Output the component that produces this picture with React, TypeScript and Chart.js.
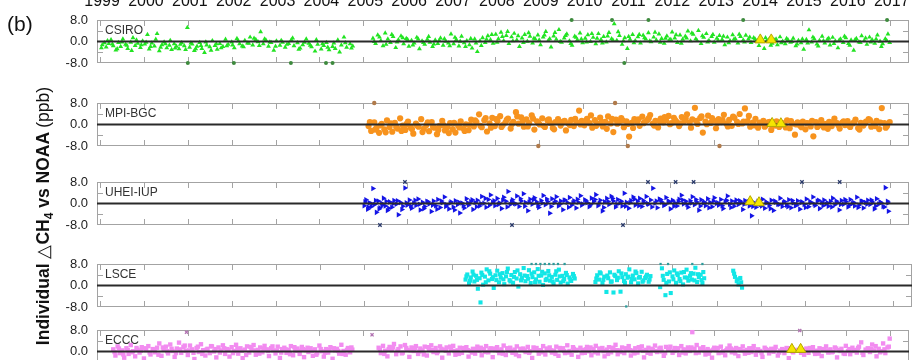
import React, { useEffect, useRef } from "react";
import Chart from "chart.js/auto";

type P = [number, number];

const YEARS = [1999, 2000, 2001, 2002, 2003, 2004, 2005, 2006, 2007, 2008, 2009, 2010, 2011, 2012, 2013, 2014, 2015, 2016, 2017];
const X_MIN = 1998.93;
const X_MAX = 2017.44;
const Y_TICKS = [-8, 0, 8];

const csiro: P[] = [
  [1999.05,-1.2],[1999.1,-0.5],[1999.14,-2.1],[1999.2,-0.8],[1999.25,0.6],[1999.3,-1.6],[1999.36,-3.2],[1999.42,-0.4],[1999.47,-1.9],[1999.52,0.9],[1999.58,-1.1],[1999.63,-2.6],[1999.7,-0.3],[1999.75,1.4],[1999.8,-1.5],[1999.86,-0.7],[1999.92,-2.3],[1999.97,0.2],
  [2000.02,-1.0],[2000.08,2.6],[2000.12,-2.8],[2000.18,-0.6],[2000.24,-1.7],[2000.3,2.9],[2000.35,-3.5],[2000.41,-1.2],[2000.46,-0.2],[2000.52,-2.4],[2000.58,-1.4],[2000.63,-3.0],[2000.69,-0.9],[2000.74,-1.8],[2000.8,-2.7],[2000.86,-0.5],[2000.92,-1.6],[2000.99,5.2],
  [2001.04,-2.2],[2001.1,-1.0],[2001.15,-3.4],[2001.21,-1.8],[2001.27,-0.4],[2001.32,-2.6],[2001.38,-4.1],[2001.43,-1.3],[2001.5,-2.0],[2001.56,0.3],[2001.62,-1.5],[2001.67,-2.9],[2001.73,-0.8],[2001.8,-1.9],[2001.86,0.8],[2001.92,-1.1],
  [2002.0,-0.2],[2002.06,-2.4],[2002.12,1.1],[2002.18,-0.9],[2002.24,-1.7],[2002.3,0.4],[2002.36,-0.6],[2002.42,1.6],[2002.48,-1.3],[2002.55,0.7],[2002.6,-0.1],[2002.66,3.6],[2002.72,-0.9],[2002.78,0.5],[2002.84,-1.8],[2002.9,-0.4],[2002.96,-3.3],
  [2003.02,0.2],[2003.1,-1.4],[2003.16,-0.3],[2003.22,-2.2],[2003.3,-0.8],[2003.36,0.6],[2003.42,-1.6],[2003.5,-0.5],[2003.56,-2.5],[2003.62,-1.2],[2003.7,0.9],[2003.76,-0.7],[2003.82,-2.0],[2003.9,-3.6],[2003.96,-1.1],
  [2004.04,-2.8],[2004.1,-1.5],[2004.16,-0.4],[2004.22,-3.1],[2004.3,-1.9],[2004.36,-2.6],[2004.42,0.5],[2004.5,-1.3],[2004.56,1.6],[2004.62,-2.2],[2004.7,-0.9],[2004.76,-1.7],
  [2005.22,1.2],[2005.28,-0.8],[2005.33,2.4],[2005.4,0.3],[2005.45,-1.6],[2005.5,3.1],[2005.56,0.9],[2005.62,-0.4],[2005.68,1.8],[2005.74,-2.3],[2005.8,0.6],[2005.86,2.0],[2005.92,-0.9],[2005.98,1.1],
  [2006.04,-1.8],[2006.1,0.4],[2006.16,-0.6],[2006.22,1.5],[2006.28,-2.7],[2006.34,0.2],[2006.4,-1.1],[2006.46,0.8],[2006.52,-0.3],[2006.58,-1.9],[2006.64,0.5],[2006.7,-0.8],[2006.76,1.3],[2006.82,-1.4],[2006.88,0.1],[2006.94,-0.6],
  [2007.0,2.8],[2007.06,-0.9],[2007.12,0.7],[2007.18,-1.7],[2007.24,1.9],[2007.3,-0.5],[2007.36,0.3],[2007.42,-1.2],[2007.48,-2.5],[2007.54,0.9],[2007.6,-3.8],[2007.66,0.2],[2007.72,1.4],[2007.78,-0.4],[2007.84,2.1],[2007.9,0.6],[2007.96,-0.7],
  [2008.02,2.7],[2008.08,1.0],[2008.14,3.4],[2008.2,0.3],[2008.26,2.2],[2008.32,-0.8],[2008.38,1.7],[2008.44,3.0],[2008.5,0.5],[2008.56,-1.9],[2008.62,1.3],[2008.68,2.6],[2008.74,0.1],[2008.8,1.9],[2008.86,-0.6],[2008.92,0.9],[2008.98,2.4],
  [2009.04,-1.2],[2009.1,1.6],[2009.16,3.7],[2009.22,0.4],[2009.28,-2.1],[2009.34,2.0],[2009.4,0.8],[2009.46,4.4],[2009.52,-0.3],[2009.58,1.3],[2009.64,2.8],[2009.7,0.2],[2009.76,-1.4],[2009.82,1.9],[2009.88,0.6],[2009.94,3.1],
  [2010.0,-0.5],[2010.06,1.2],[2010.12,2.5],[2010.18,0.0],[2010.24,1.5],[2010.3,-0.9],[2010.36,2.9],[2010.42,0.7],[2010.48,1.8],[2010.54,-0.2],[2010.6,3.3],[2010.66,1.0],[2010.72,6.6],[2010.78,0.4],[2010.84,2.2],[2010.9,-1.1],[2010.96,1.4],
  [2011.02,-2.6],[2011.08,0.8],[2011.14,2.6],[2011.2,0.3],[2011.26,1.7],[2011.32,-0.6],[2011.38,2.3],[2011.44,0.9],[2011.5,3.2],[2011.56,-0.1],[2011.62,1.6],[2011.68,0.5],[2011.74,2.8],[2011.8,1.1],[2011.86,-0.7],[2011.92,2.0],[2011.98,0.6],
  [2012.04,3.5],[2012.1,1.3],[2012.16,-0.4],[2012.22,2.4],[2012.28,0.8],[2012.34,1.9],[2012.4,3.9],[2012.46,0.2],[2012.52,2.7],[2012.58,1.0],[2012.64,4.1],[2012.7,-0.8],[2012.76,1.5],[2012.82,2.9],[2012.88,0.4],[2012.94,1.8],
  [2013.0,-0.3],[2013.06,1.2],[2013.12,2.2],[2013.18,0.7],[2013.24,-1.2],[2013.3,1.6],[2013.36,0.3],[2013.42,2.5],[2013.48,1.0],[2013.54,-0.6],[2013.6,1.8],[2013.66,0.5],[2013.72,2.3],[2013.78,0.9],[2013.84,-0.4],[2013.9,1.4],[2013.96,0.2],
  [2014.02,-1.5],[2014.08,0.8],[2014.14,-2.6],[2014.2,0.3],[2014.26,1.1],[2014.32,-0.7],[2014.38,0.5],[2014.44,-1.2],[2014.5,1.7],[2014.56,0.1],[2014.62,-0.9],[2014.68,0.6],[2014.74,-0.3],[2014.8,1.2],[2014.86,-1.6],[2014.92,0.4],[2014.98,-0.5],
  [2015.04,-2.9],[2015.1,0.7],[2015.16,4.3],[2015.22,-0.2],[2015.28,1.0],[2015.34,-1.0],[2015.4,0.4],[2015.46,1.9],[2015.52,-0.6],[2015.58,0.8],[2015.64,-1.3],[2015.7,1.5],[2015.76,0.2],[2015.82,-2.4],[2015.88,0.9],[2015.94,-0.4],
  [2016.0,1.4],[2016.06,-0.8],[2016.12,0.5],[2016.18,-3.3],[2016.24,1.1],[2016.3,-0.2],[2016.36,2.1],[2016.42,0.3],[2016.48,-1.1],[2016.54,1.6],[2016.6,0.6],[2016.66,-0.7],[2016.72,2.4],[2016.78,0.1],[2016.84,-0.9],[2016.9,1.0],[2016.96,2.8],[2017.0,-0.4]
];
const csiroB: P[] = [
  [1999.03,-2.4],[1999.17,0.3],[1999.28,-1.0],[1999.39,-2.7],[1999.5,-0.2],[1999.61,-1.4],[1999.72,-3.4],[1999.83,0.5],[1999.94,-1.2],
  [2000.05,-0.3],[2000.15,-1.9],[2000.27,0.8],[2000.38,-2.2],[2000.49,-0.9],[2000.6,0.4],[2000.71,-2.5],[2000.83,-1.1],[2000.95,-3.0],
  [2001.07,-0.6],[2001.18,-2.7],[2001.3,-1.5],[2001.41,-0.2],[2001.53,-3.3],[2001.65,-0.9],[2001.76,-2.4],[2001.89,-1.6],
  [2002.02,-1.3],[2002.15,0.2],[2002.27,-2.0],[2002.39,-0.7],[2002.51,1.2],[2002.63,-1.5],[2002.75,0.9],[2002.87,-0.2],
  [2003.0,-1.8],[2003.13,0.4],[2003.26,-1.1],[2003.39,1.3],[2003.53,-2.9],[2003.66,-0.3],[2003.79,-1.4],[2003.93,0.6],
  [2004.07,-0.9],[2004.19,-2.2],[2004.33,-0.6],[2004.46,-3.9],[2004.59,-0.5],[2004.73,-2.5],
  [2005.25,0.0],[2005.37,1.6],[2005.52,-1.1],[2005.65,2.6],[2005.77,-0.2],[2005.9,1.4],
  [2006.01,0.7],[2006.13,-1.3],[2006.25,0.9],[2006.37,-0.4],[2006.49,1.8],[2006.61,-1.0],[2006.73,0.4],[2006.85,1.0],[2006.97,-1.6],
  [2007.09,1.5],[2007.21,0.1],[2007.33,-1.9],[2007.45,1.1],[2007.57,-0.6],[2007.69,-1.5],[2007.81,0.8],[2007.93,2.6],
  [2008.05,-0.3],[2008.17,1.8],[2008.29,3.7],[2008.41,0.2],[2008.53,2.1],[2008.65,-0.4],[2008.77,3.2],[2008.89,1.2],
  [2009.01,0.5],[2009.13,2.4],[2009.25,1.0],[2009.37,3.3],[2009.49,0.0],[2009.61,2.2],[2009.73,-0.8],[2009.85,1.5],[2009.97,0.9],
  [2010.09,-0.2],[2010.21,2.9],[2010.33,1.2],[2010.45,-0.6],[2010.57,2.0],[2010.69,0.5],[2010.81,3.6],[2010.93,0.2],
  [2011.05,1.8],[2011.17,-0.5],[2011.29,2.6],[2011.41,1.4],[2011.53,0.2],[2011.65,3.4],[2011.77,-0.3],[2011.89,1.2],
  [2012.01,0.7],[2012.13,2.5],[2012.25,-0.7],[2012.37,1.3],[2012.49,3.1],[2012.61,0.3],[2012.73,2.1],[2012.85,-0.2],[2012.97,2.6],
  [2013.09,0.4],[2013.21,1.9],[2013.33,-0.5],[2013.45,0.8],[2013.57,2.7],[2013.69,-0.2],[2013.81,1.6],[2013.93,0.9],
  [2014.05,0.3],[2014.17,1.4],[2014.29,-1.4],[2014.41,0.9],[2014.53,-0.5],[2014.65,1.1],[2014.77,0.0],[2014.89,-1.0],
  [2015.01,0.9],[2015.13,-0.6],[2015.25,1.6],[2015.37,-1.7],[2015.49,0.3],[2015.61,1.2],[2015.73,-0.8],[2015.85,0.5],[2015.97,1.9],
  [2016.09,-1.4],[2016.21,0.6],[2016.33,-0.4],[2016.45,1.3],[2016.57,-0.2],[2016.69,0.9],[2016.81,-1.9],[2016.93,0.4]
];
const csiroOut: P[] = [[2001.0,-8],[2002.05,-8],[2003.35,-8],[2004.15,-8],[2004.3,-8],[2009.75,8],[2010.67,8],[2010.95,-8],[2011.5,8],[2013.66,8],[2016.94,8]];
const csiroMarks: P[] = [[2014.05,0.6],[2014.3,0.6]];

const mpi: P[] = [
  [2005.12,-0.6],[2005.18,-2.4],[2005.25,0.8],[2005.3,-1.3],[2005.36,-3.1],[2005.42,0.2],[2005.48,-1.8],[2005.54,1.5],[2005.6,-0.9],[2005.66,-2.7],[2005.72,0.6],[2005.78,-1.5],[2005.84,2.3],[2005.9,-0.4],[2005.96,-2.0],
  [2006.02,1.1],[2006.08,-1.1],[2006.14,-3.4],[2006.2,0.3],[2006.26,-0.8],[2006.32,2.0],[2006.38,-1.6],[2006.44,-0.2],[2006.5,-2.5],[2006.56,0.9],[2006.62,-1.2],[2006.68,-3.6],[2006.74,-0.5],[2006.8,1.4],[2006.86,-2.2],[2006.92,-0.9],[2006.98,0.5],
  [2007.04,-1.7],[2007.1,-3.0],[2007.16,-0.3],[2007.22,1.2],[2007.28,-1.4],[2007.34,0.1],[2007.4,-2.1],[2007.46,1.8],[2007.52,-0.7],[2007.58,0.9],[2007.64,3.8],[2007.7,-1.0],[2007.76,1.6],[2007.82,-2.6],[2007.88,0.4],[2007.94,2.5],
  [2008.0,-0.6],[2008.06,1.3],[2008.12,3.1],[2008.18,-0.2],[2008.24,0.7],[2008.3,2.2],[2008.36,-1.5],[2008.42,1.0],[2008.48,4.6],[2008.54,0.3],[2008.6,2.7],[2008.66,-0.8],[2008.72,1.9],[2008.78,0.5],[2008.84,3.4],[2008.9,-1.9],[2008.96,1.2],
  [2009.02,0.0],[2009.08,2.3],[2009.14,-0.9],[2009.2,1.5],[2009.26,0.6],[2009.32,-1.3],[2009.38,0.9],[2009.44,2.0],[2009.5,-0.4],[2009.56,1.1],[2009.62,-2.2],[2009.68,0.4],[2009.74,1.7],[2009.8,-0.6],[2009.86,0.8],[2009.92,5.2],[2009.98,1.4],
  [2010.04,-0.3],[2010.1,2.1],[2010.16,0.5],[2010.22,-1.2],[2010.28,1.6],[2010.34,0.2],[2010.4,2.6],[2010.46,-0.7],[2010.52,1.0],[2010.58,3.0],[2010.64,0.4],[2010.7,-2.8],[2010.76,1.8],[2010.82,0.7],[2010.88,2.4],[2010.94,-1.0],
  [2011.0,1.2],[2011.06,-4.5],[2011.12,0.6],[2011.18,2.0],[2011.24,1.1],[2011.3,-0.5],[2011.36,2.9],[2011.42,0.9],[2011.48,1.7],[2011.54,3.5],[2011.6,0.3],[2011.66,1.4],[2011.72,-1.1],[2011.78,2.2],[2011.84,0.8],[2011.9,1.6],[2011.96,3.2],
  [2012.02,0.5],[2012.08,2.5],[2012.14,1.0],[2012.2,-0.6],[2012.26,2.8],[2012.32,1.3],[2012.38,3.8],[2012.44,0.7],[2012.5,1.9],[2012.56,6.2],[2012.62,0.2],[2012.68,2.4],[2012.74,-3.0],[2012.8,1.1],[2012.86,3.3],[2012.92,0.6],[2012.98,1.5],
  [2013.04,-1.4],[2013.1,2.0],[2013.16,0.9],[2013.22,3.6],[2013.28,0.3],[2013.34,1.7],[2013.4,-0.5],[2013.46,2.5],[2013.52,1.0],[2013.58,3.9],[2013.64,0.4],[2013.7,6.0],[2013.76,1.3],[2013.82,-0.8],[2013.88,0.7],[2013.94,2.1],
  [2014.0,-1.2],[2014.06,0.5],[2014.12,1.4],[2014.18,-0.3],[2014.24,0.9],[2014.3,-2.0],[2014.36,0.2],[2014.42,1.2],[2014.48,-0.9],[2014.54,0.6],[2014.6,-0.2],[2014.66,1.5],[2014.72,-1.4],[2014.78,0.3],[2014.84,-3.8],[2014.9,0.8],[2014.96,-0.5],
  [2015.02,1.1],[2015.08,-1.8],[2015.14,0.4],[2015.2,-0.7],[2015.26,-4.4],[2015.32,0.9],[2015.38,-0.4],[2015.44,1.6],[2015.5,-1.1],[2015.56,0.2],[2015.62,1.0],[2015.68,-0.6],[2015.74,2.2],[2015.8,0.5],[2015.86,-1.5],[2015.92,0.7],[2015.98,-0.2],
  [2016.04,1.3],[2016.1,-0.9],[2016.16,0.4],[2016.22,1.8],[2016.28,-1.3],[2016.34,0.6],[2016.4,-0.4],[2016.46,1.1],[2016.52,2.0],[2016.58,-0.8],[2016.64,0.3],[2016.7,1.4],[2016.76,-1.7],[2016.82,6.1],[2016.88,0.5],[2016.94,-0.6],[2017.0,0.9]
];
const mpiB: P[] = [
  [2005.15,0.9],[2005.27,-1.9],[2005.39,-0.3],[2005.51,-2.9],[2005.63,0.4],[2005.75,-0.9],[2005.87,-2.4],[2005.99,0.2],
  [2006.11,-1.7],[2006.23,-0.4],[2006.35,-2.8],[2006.47,0.8],[2006.59,-0.8],[2006.71,-2.0],[2006.83,-0.2],[2006.95,-3.2],
  [2007.07,0.6],[2007.19,-1.1],[2007.31,-2.4],[2007.43,-0.1],[2007.55,1.5],[2007.67,-0.5],[2007.79,2.4],[2007.91,-1.2],
  [2008.03,2.0],[2008.15,-0.9],[2008.27,1.7],[2008.39,0.2],[2008.51,3.0],[2008.63,1.0],[2008.75,-0.7],[2008.87,2.2],[2008.99,0.6],
  [2009.11,-0.5],[2009.23,1.9],[2009.35,-1.8],[2009.47,0.8],[2009.59,1.4],[2009.71,-0.2],[2009.83,2.1],[2009.95,0.0],
  [2010.07,1.2],[2010.19,3.4],[2010.31,-0.5],[2010.43,1.0],[2010.55,-1.6],[2010.67,2.1],[2010.79,0.3],[2010.91,1.5],
  [2011.03,0.2],[2011.15,-1.3],[2011.27,1.9],[2011.39,0.5],[2011.51,2.4],[2011.63,-0.4],[2011.75,1.3],[2011.87,2.8],[2011.99,0.1],
  [2012.11,1.6],[2012.23,0.4],[2012.35,2.2],[2012.47,-1.2],[2012.59,1.4],[2012.71,3.0],[2012.83,0.1],[2012.95,2.4],
  [2013.07,0.6],[2013.19,1.6],[2013.31,-0.7],[2013.43,2.9],[2013.55,0.2],[2013.67,1.1],[2013.79,3.2],[2013.91,-0.3],
  [2014.03,0.7],[2014.15,-0.8],[2014.27,1.0],[2014.39,-0.4],[2014.51,0.4],[2014.63,-1.1],[2014.75,1.3],[2014.87,0.0],[2014.99,-1.0],
  [2015.11,0.5],[2015.23,1.4],[2015.35,-0.9],[2015.47,0.3],[2015.59,-1.6],[2015.71,0.9],[2015.83,-0.3],[2015.95,1.2],
  [2016.07,-0.4],[2016.19,0.8],[2016.31,-1.9],[2016.43,0.5],[2016.55,1.6],[2016.67,-0.6],[2016.79,0.7],[2016.91,-1.2]
];
const mpiOut: P[] = [[2005.25,8],[2010.74,8],[2008.99,-8],[2011.03,-8],[2013.12,-8]];
const mpiMarks: P[] = [[2014.32,0.4],[2014.52,0.3]];

const uhei: P[] = [
  [2005.02,-0.8],[2005.06,1.4],[2005.1,-2.1],[2005.14,0.3],[2005.18,-1.2],[2005.22,5.6],[2005.26,-0.4],[2005.3,-3.3],[2005.34,0.9],[2005.38,-1.6],[2005.42,0.1],[2005.46,2.0],[2005.5,-0.9],[2005.55,-2.6],[2005.6,0.6],[2005.65,-1.4],[2005.7,1.1],[2005.75,-0.3],[2005.8,-4.2],[2005.85,0.4],[2005.9,-1.0],[2005.95,5.8],
  [2006.0,-0.6],[2006.05,1.3],[2006.1,-1.8],[2006.15,0.2],[2006.2,-0.7],[2006.25,1.7],[2006.3,-2.4],[2006.35,0.5],[2006.4,-1.1],[2006.45,0.8],[2006.5,-0.2],[2006.55,-3.0],[2006.6,0.9],[2006.65,-0.8],[2006.7,1.5],[2006.75,-1.5],[2006.8,0.3],[2006.85,2.4],[2006.9,-0.5],[2006.95,-2.0],
  [2007.0,0.6],[2007.05,-1.3],[2007.1,1.0],[2007.15,-0.4],[2007.2,-3.5],[2007.25,0.2],[2007.3,-1.7],[2007.35,1.8],[2007.4,-0.6],[2007.45,0.7],[2007.5,-2.2],[2007.55,0.4],[2007.6,1.2],[2007.65,-0.9],[2007.7,2.6],[2007.75,0.1],[2007.8,-1.4],[2007.85,1.5],[2007.9,3.2],[2007.95,0.5],
  [2008.0,-0.8],[2008.05,1.9],[2008.1,0.3],[2008.15,-1.9],[2008.2,2.3],[2008.25,0.8],[2008.3,4.5],[2008.35,-0.4],[2008.4,1.4],[2008.45,0.0],[2008.5,2.8],[2008.55,-1.1],[2008.6,0.9],[2008.65,3.6],[2008.7,0.4],[2008.75,-2.7],[2008.8,1.6],[2008.85,-0.3],[2008.9,2.1],[2008.95,0.6],
  [2009.0,-1.5],[2009.05,1.1],[2009.1,3.0],[2009.15,-0.5],[2009.2,0.7],[2009.25,-3.6],[2009.3,1.8],[2009.35,0.2],[2009.4,2.5],[2009.45,-0.9],[2009.5,0.9],[2009.55,-2.3],[2009.6,1.3],[2009.65,0.4],[2009.7,2.2],[2009.75,-0.6],[2009.8,1.0],[2009.85,-1.7],[2009.9,0.5],[2009.95,2.9],
  [2010.0,-0.2],[2010.05,1.4],[2010.1,0.3],[2010.15,-1.2],[2010.2,2.0],[2010.25,0.7],[2010.3,3.3],[2010.35,-0.8],[2010.4,1.2],[2010.45,-2.8],[2010.5,0.6],[2010.55,1.9],[2010.6,-0.4],[2010.65,2.7],[2010.7,0.9],[2010.75,-1.3],[2010.8,1.5],[2010.85,0.2],[2010.9,-0.9],[2010.95,3.8],
  [2011.0,0.5],[2011.05,-1.8],[2011.1,1.1],[2011.15,2.4],[2011.2,-0.6],[2011.25,0.8],[2011.3,1.9],[2011.35,-1.1],[2011.4,0.4],[2011.45,2.6],[2011.5,-0.3],[2011.55,1.3],[2011.6,5.7],[2011.65,0.1],[2011.7,-1.6],[2011.75,1.7],[2011.8,0.6],[2011.85,-0.7],[2011.9,2.2],[2011.95,0.9],
  [2012.0,-2.0],[2012.05,1.2],[2012.1,0.3],[2012.15,-0.9],[2012.2,1.6],[2012.25,3.1],[2012.3,-0.2],[2012.35,0.8],[2012.4,-1.4],[2012.45,1.0],[2012.5,2.5],[2012.55,-0.5],[2012.6,0.6],[2012.65,-2.5],[2012.7,1.4],[2012.75,0.2],[2012.8,-0.8],[2012.85,1.8],[2012.9,0.5],[2012.95,-1.2],
  [2013.0,2.1],[2013.05,0.0],[2013.1,-0.6],[2013.15,1.5],[2013.2,-1.9],[2013.25,0.7],[2013.3,2.8],[2013.35,-0.3],[2013.4,0.9],[2013.45,-1.0],[2013.5,1.3],[2013.55,-0.4],[2013.6,0.6],[2013.65,-2.2],[2013.7,1.1],[2013.75,0.1],[2013.8,-0.9],[2013.85,-4.6],[2013.9,0.4],[2013.95,-1.4],
  [2014.0,0.8],[2014.05,-0.5],[2014.1,1.6],[2014.15,-1.8],[2014.2,0.3],[2014.25,-0.7],[2014.3,1.2],[2014.35,-2.6],[2014.4,0.5],[2014.45,-0.3],[2014.5,2.0],[2014.55,-1.1],[2014.6,0.7],[2014.65,-0.6],[2014.7,1.4],[2014.75,-1.6],[2014.8,0.2],[2014.85,-0.8],[2014.9,1.0],[2014.95,-2.1],
  [2015.0,0.6],[2015.05,-0.4],[2015.1,1.7],[2015.15,-1.2],[2015.2,0.3],[2015.25,2.4],[2015.3,-0.7],[2015.35,0.9],[2015.4,-1.9],[2015.45,0.4],[2015.5,1.3],[2015.55,-0.2],[2015.6,-1.0],[2015.65,0.8],[2015.7,2.0],[2015.75,-0.5],[2015.8,0.5],[2015.85,-2.4],[2015.9,1.1],[2015.95,-0.3],
  [2016.0,0.7],[2016.05,-1.3],[2016.1,1.5],[2016.15,0.0],[2016.2,-0.9],[2016.25,2.3],[2016.3,-0.6],[2016.35,0.9],[2016.4,-1.7],[2016.45,0.4],[2016.5,1.2],[2016.55,-0.4],[2016.6,0.6],[2016.65,-2.0],[2016.7,1.8],[2016.75,-0.2],[2016.8,0.3],[2016.85,-1.1],[2016.9,5.9],[2016.95,0.8],[2016.97,-2.9]
];
const uheiB: P[] = [
  [2005.04,0.6],[2005.12,-1.4],[2005.2,-0.2],[2005.28,1.1],[2005.36,-2.0],[2005.44,-0.6],[2005.52,0.8],[2005.58,-1.8],[2005.68,-0.1],[2005.78,1.0],[2005.88,-2.2],[2005.98,0.3],
  [2006.08,-0.9],[2006.18,1.2],[2006.28,-0.3],[2006.38,-1.9],[2006.48,0.6],[2006.58,-0.6],[2006.68,-2.1],[2006.78,0.9],[2006.88,-1.1],[2006.98,0.2],
  [2007.08,-2.4],[2007.18,0.5],[2007.28,-0.8],[2007.38,0.3],[2007.48,1.4],[2007.58,-1.2],[2007.68,0.0],[2007.78,1.9],[2007.88,-0.6],[2007.98,1.0],
  [2008.08,-0.4],[2008.18,1.2],[2008.28,-1.3],[2008.38,0.6],[2008.48,-0.2],[2008.58,1.8],[2008.68,-1.0],[2008.78,0.5],[2008.88,1.4],[2008.98,-0.7],
  [2009.08,0.2],[2009.18,1.7],[2009.28,-1.1],[2009.38,0.8],[2009.48,-0.3],[2009.58,1.2],[2009.68,-1.4],[2009.78,0.3],[2009.88,1.6],[2009.98,-0.6],
  [2010.08,0.9],[2010.18,-0.5],[2010.28,1.5],[2010.38,0.1],[2010.48,-1.5],[2010.58,0.7],[2010.68,1.9],[2010.78,-0.3],[2010.88,0.8],[2010.98,-1.0],
  [2011.08,0.3],[2011.18,1.6],[2011.28,-0.8],[2011.38,1.1],[2011.48,0.0],[2011.58,-1.3],[2011.68,0.9],[2011.78,1.4],[2011.88,-0.5],[2011.98,0.6],
  [2012.08,-1.0],[2012.18,0.7],[2012.28,1.3],[2012.38,-0.4],[2012.48,0.2],[2012.58,1.5],[2012.68,-0.9],[2012.78,0.5],[2012.88,-1.6],[2012.98,0.9],
  [2013.08,0.3],[2013.18,-0.8],[2013.28,1.2],[2013.38,-1.5],[2013.48,0.4],[2013.58,1.0],[2013.68,-0.3],[2013.78,0.7],[2013.88,-1.1],[2013.98,0.2],
  [2014.08,-0.9],[2014.18,0.6],[2014.28,-1.9],[2014.38,0.9],[2014.48,-0.4],[2014.58,0.3],[2014.68,-1.2],[2014.78,1.1],[2014.88,-0.6],[2014.98,0.4],
  [2015.08,-1.5],[2015.18,0.7],[2015.28,-0.2],[2015.38,1.2],[2015.48,-0.8],[2015.58,0.3],[2015.68,-1.3],[2015.78,0.9],[2015.88,-0.4],[2015.98,1.5],
  [2016.08,-0.6],[2016.18,0.4],[2016.28,-1.5],[2016.38,0.8],[2016.48,-0.3],[2016.58,1.3],[2016.68,-0.9],[2016.78,0.6],[2016.88,-1.3],[2016.96,0.2]
];
const uheiOut: P[] = [[2005.95,8],[2011.49,8],[2012.12,8],[2012.53,8],[2015.0,8],[2015.86,8],[2005.38,-8],[2008.39,-8],[2010.92,-8]];
const uheiMarks: P[] = [[2013.82,0.7],[2014.02,0.3]];

const lsce: P[] = [
  [2007.3,2.2],[2007.34,4.1],[2007.38,0.8],[2007.42,3.0],[2007.46,5.2],[2007.5,1.5],[2007.54,3.6],[2007.58,-1.2],[2007.62,2.7],[2007.64,-6.3],[2007.66,4.8],[2007.7,0.3],[2007.74,3.3],[2007.78,6.0],[2007.82,1.9],[2007.86,4.4],[2007.9,2.4],[2007.94,-0.9],[2007.98,3.8],
  [2008.02,5.5],[2008.06,1.2],[2008.1,2.9],[2008.14,4.6],[2008.18,0.5],[2008.22,3.4],[2008.26,6.3],[2008.3,2.0],[2008.34,3.9],[2008.38,1.0],[2008.42,5.0],[2008.46,2.6],[2008.5,-0.4],[2008.54,4.2],[2008.58,2.8],[2008.62,6.5],[2008.66,1.6],[2008.7,3.5],[2008.74,5.7],[2008.78,0.9],[2008.82,3.1],[2008.86,4.9],[2008.9,2.3],[2008.94,6.1],[2008.98,1.4],
  [2009.02,3.7],[2009.06,0.2],[2009.1,4.5],[2009.14,2.5],[2009.18,5.4],[2009.22,1.8],[2009.26,3.2],[2009.3,0.6],[2009.34,4.0],[2009.38,2.1],[2009.42,5.9],[2009.46,1.1],[2009.5,3.6],[2009.54,2.4],[2009.58,4.7],[2009.62,0.7],[2009.66,3.0],[2009.7,1.7],[2009.74,4.3],[2009.78,2.6],
  [2010.25,1.3],[2010.29,3.8],[2010.33,2.2],[2010.37,4.5],[2010.41,1.0],[2010.45,3.3],[2010.5,-2.4],[2010.54,2.7],[2010.58,4.9],[2010.62,1.5],[2010.66,-2.6],[2010.7,3.5],[2010.74,2.0],[2010.78,5.3],[2010.82,-2.3],[2010.86,3.1],[2010.9,1.7],[2010.94,4.2],[2010.98,2.9],
  [2011.02,6.0],[2011.06,1.2],[2011.1,3.7],[2011.14,2.3],[2011.18,4.6],[2011.22,0.8],[2011.26,3.2],[2011.3,5.1],[2011.34,1.9],[2011.38,2.8],[2011.42,4.0],[2011.46,1.4],[2011.5,3.5],
  [2011.72,-0.6],[2011.76,6.4],[2011.8,2.1],[2011.84,-3.6],[2011.88,4.3],[2011.92,1.5],[2011.96,-2.8],[2012.0,3.4],[2012.04,5.6],[2012.08,1.0],[2012.12,3.9],[2012.16,2.4],[2012.2,4.8],[2012.24,0.4],[2012.28,3.0],[2012.32,5.9],[2012.36,1.8],[2012.4,3.6],[2012.44,2.2],[2012.48,4.4],[2012.52,6.6],[2012.56,1.3],[2012.6,3.1],[2012.64,4.0],[2012.68,0.9],[2012.72,2.7],
  [2013.38,5.5],[2013.42,3.2],[2013.46,1.6],[2013.5,0.4],[2013.54,2.8],[2013.58,-0.8]
];
const lsceB: P[] = [
  [2007.32,3.4],[2007.4,1.8],[2007.48,4.0],[2007.56,2.1],[2007.68,3.9],[2007.76,1.2],[2007.84,5.3],[2007.92,3.1],
  [2008.0,2.0],[2008.08,4.2],[2008.16,2.3],[2008.24,5.0],[2008.32,1.5],[2008.4,3.2],[2008.48,5.6],[2008.56,1.9],[2008.64,3.7],[2008.72,2.5],[2008.8,4.4],[2008.88,1.2],[2008.96,3.6],
  [2009.04,5.1],[2009.12,2.0],[2009.2,3.8],[2009.28,1.5],[2009.36,5.3],[2009.44,3.4],[2009.52,1.6],[2009.6,3.9],[2009.68,2.2],[2009.76,3.5],
  [2010.27,2.6],[2010.35,4.9],[2010.43,2.1],[2010.52,3.7],[2010.6,1.4],[2010.68,4.0],[2010.76,2.9],[2010.84,4.5],[2010.92,1.0],[2011.0,3.3],[2011.08,2.4],[2011.16,5.2],[2011.24,2.9],[2011.32,1.4],[2011.4,3.3],[2011.48,2.2],
  [2011.78,3.6],[2011.86,1.0],[2011.94,4.9],[2012.02,2.3],[2012.1,4.5],[2012.18,1.6],[2012.26,5.0],[2012.34,2.9],[2012.42,4.6],[2012.5,1.9],[2012.58,4.2],[2012.66,2.0],[2012.7,5.0],
  [2013.4,4.4],[2013.48,2.3],[2013.56,1.2]
];
const lsceOut: P[] = [[2008.8,8],[2008.9,8],[2009.0,8],[2009.1,8],[2009.2,8],[2009.3,8],[2009.4,8],[2009.55,8],[2011.73,8],[2011.9,8],[2012.45,8],[2012.68,8],[2010.95,-7.8]];

const eccc: P[] = [
  [1999.3,0.8],[1999.35,-1.5],[1999.4,1.9],[1999.45,-0.6],[1999.5,0.4],[1999.55,-2.3],[1999.6,1.2],[1999.65,-0.9],[1999.7,2.4],[1999.75,0.1],[1999.8,-1.8],[1999.85,0.7],[1999.9,-0.4],[1999.95,1.6],
  [2000.0,-2.6],[2000.05,0.5],[2000.1,2.0],[2000.15,-1.1],[2000.2,0.9],[2000.25,-0.3],[2000.3,1.4],[2000.35,3.0],[2000.4,-1.6],[2000.45,0.6],[2000.5,1.8],[2000.55,-0.7],[2000.6,2.6],[2000.65,0.2],[2000.7,-2.0],[2000.75,1.1],[2000.8,3.3],[2000.85,-0.5],[2000.9,1.7],[2000.95,0.3],
  [2001.0,-1.3],[2001.05,2.2],[2001.1,0.8],[2001.15,-2.8],[2001.2,1.3],[2001.25,-0.2],[2001.3,2.7],[2001.35,0.5],[2001.4,-1.5],[2001.45,1.0],[2001.5,-0.6],[2001.55,1.9],[2001.6,0.0],[2001.65,-2.2],[2001.7,1.5],[2001.75,0.4],[2001.8,2.3],[2001.85,-0.9],[2001.9,0.9],[2001.95,-1.9],
  [2002.0,1.6],[2002.05,0.2],[2002.1,2.5],[2002.15,-0.8],[2002.2,1.2],[2002.25,-2.5],[2002.3,0.7],[2002.35,1.9],[2002.4,-0.4],[2002.45,1.0],[2002.5,2.4],[2002.55,-1.2],[2002.6,0.6],[2002.65,1.5],[2002.7,-0.3],[2002.75,2.1],[2002.8,0.8],[2002.85,-1.7],[2002.9,1.3],[2002.95,0.4],
  [2003.0,-0.7],[2003.05,1.8],[2003.1,-2.4],[2003.15,0.9],[2003.2,1.4],[2003.25,-0.5],[2003.3,0.6],[2003.35,2.0],[2003.4,-1.4],[2003.45,0.3],[2003.5,1.1],[2003.55,-0.9],[2003.6,1.7],[2003.65,-2.1],[2003.7,0.5],[2003.75,-0.2],[2003.8,1.2],[2003.85,-1.6],[2003.9,0.8],[2003.95,-0.6],
  [2004.0,2.2],[2004.05,0.1],[2004.1,-1.9],[2004.15,0.9],[2004.2,-0.4],[2004.25,1.6],[2004.3,-2.7],[2004.35,0.4],[2004.4,1.0],[2004.45,-0.8],[2004.5,2.5],[2004.55,0.2],[2004.6,-1.2],[2004.65,1.3],[2004.7,-0.3],[2004.75,0.7],
  [2005.35,1.4],[2005.4,-0.6],[2005.45,2.1],[2005.5,0.3],[2005.55,-1.8],[2005.6,1.7],[2005.65,0.5],[2005.7,2.8],[2005.75,-1.0],[2005.8,0.9],[2005.85,1.9],[2005.9,-0.4],[2005.95,2.4],
  [2006.0,0.6],[2006.05,-2.0],[2006.1,1.5],[2006.15,0.2],[2006.2,2.0],[2006.25,-0.9],[2006.3,1.1],[2006.35,0.4],[2006.4,1.8],[2006.45,-1.5],[2006.5,0.8],[2006.55,2.3],[2006.6,-0.2],[2006.65,1.3],[2006.7,0.0],[2006.75,1.9],[2006.8,-2.3],[2006.85,0.7],[2006.9,1.5],[2006.95,-0.7],
  [2007.0,0.9],[2007.05,2.1],[2007.1,-1.2],[2007.15,0.4],[2007.2,1.4],[2007.25,-0.5],[2007.3,0.6],[2007.35,1.6],[2007.4,-1.9],[2007.45,0.2],[2007.5,1.0],[2007.55,-0.8],[2007.6,1.8],[2007.65,0.3],[2007.7,-1.4],[2007.75,0.9],[2007.8,2.0],[2007.85,-0.3],[2007.9,1.2],[2007.95,-2.1],
  [2008.0,0.5],[2008.05,1.6],[2008.1,-0.6],[2008.15,0.8],[2008.2,2.2],[2008.25,-1.3],[2008.3,0.4],[2008.35,1.4],[2008.4,-0.5],[2008.45,0.7],[2008.5,1.9],[2008.55,-1.7],[2008.6,0.6],[2008.65,1.1],[2008.7,-0.2],[2008.75,1.7],[2008.8,0.1],[2008.85,-2.4],[2008.9,0.9],[2008.95,1.3],
  [2009.0,-0.8],[2009.05,0.5],[2009.1,2.0],[2009.15,-1.1],[2009.2,0.7],[2009.25,1.5],[2009.3,-0.4],[2009.35,0.3],[2009.4,1.8],[2009.45,-1.6],[2009.5,0.8],[2009.55,1.2],[2009.6,-0.6],[2009.65,2.3],[2009.7,0.2],[2009.75,-1.2],[2009.8,1.0],[2009.85,0.4],[2009.9,-2.0],[2009.95,1.4],
  [2010.0,0.6],[2010.05,-0.5],[2010.1,1.7],[2010.15,0.1],[2010.2,-1.4],[2010.25,0.9],[2010.3,2.1],[2010.35,-0.7],[2010.4,0.5],[2010.45,1.3],[2010.5,-1.8],[2010.55,0.7],[2010.6,1.6],[2010.65,-0.3],[2010.7,1.0],[2010.75,2.5],[2010.8,-1.0],[2010.85,0.4],[2010.9,1.5],[2010.95,-0.6],
  [2011.0,0.8],[2011.05,2.0],[2011.1,-1.5],[2011.15,0.3],[2011.2,1.2],[2011.25,-0.4],[2011.3,0.9],[2011.35,1.9],[2011.4,-2.2],[2011.45,0.6],[2011.5,1.4],[2011.55,-0.8],[2011.6,0.5],[2011.65,2.2],[2011.7,-0.2],[2011.75,1.1],[2011.8,0.0],[2011.85,-1.6],[2011.9,1.7],[2011.95,0.7],
  [2012.0,1.8],[2012.05,-0.5],[2012.1,1.3],[2012.15,0.4],[2012.2,-1.3],[2012.25,2.0],[2012.3,0.8],[2012.35,-0.7],[2012.4,1.5],[2012.45,0.2],[2012.5,7.2],[2012.55,1.0],[2012.6,2.4],[2012.65,-0.4],[2012.7,0.6],[2012.75,1.6],[2012.8,-1.1],[2012.85,0.9],[2012.9,0.3],[2012.95,-2.3],
  [2013.0,1.4],[2013.05,0.5],[2013.1,-0.6],[2013.15,1.8],[2013.2,0.1],[2013.25,-1.4],[2013.3,1.1],[2013.35,2.2],[2013.4,-0.3],[2013.45,0.7],[2013.5,1.3],[2013.55,-1.7],[2013.6,0.4],[2013.65,1.9],[2013.7,-0.8],[2013.75,0.6],[2013.8,1.2],[2013.85,-0.2],[2013.9,2.0],[2013.95,-1.2],
  [2014.0,0.8],[2014.05,0.2],[2014.1,-2.0],[2014.15,1.4],[2014.2,0.5],[2014.25,-0.7],[2014.3,1.0],[2014.35,-0.1],[2014.4,1.7],[2014.45,-1.5],[2014.5,0.3],[2014.55,0.9],[2014.6,-0.6],[2014.65,1.3],[2014.7,-2.5],[2014.75,0.6],[2014.8,-0.3],
  [2015.0,0.4],[2015.05,-1.2],[2015.1,1.1],[2015.15,-0.5],[2015.2,0.7],[2015.25,1.6],[2015.3,-0.9],[2015.35,0.3],[2015.4,1.2],[2015.45,-1.7],[2015.5,0.6],[2015.55,1.9],[2015.6,-0.4],[2015.65,0.8],[2015.7,-0.1],[2015.75,1.5],[2015.8,-2.2],[2015.85,0.5],[2015.9,1.0],[2015.95,-0.7],
  [2016.0,2.1],[2016.05,0.2],[2016.1,-1.0],[2016.15,1.4],[2016.2,0.6],[2016.25,-0.4],[2016.3,1.8],[2016.35,3.4],[2016.4,-1.3],[2016.45,0.7],[2016.5,1.2],[2016.55,-0.2],[2016.6,2.6],[2016.65,0.4],[2016.7,-1.8],[2016.75,1.0],[2016.8,0.1],[2016.85,3.0],[2016.9,-0.6],[2016.95,1.5],[2017.0,4.8]
];
const ecccB: P[] = [
  [1999.33,-0.2],[1999.43,1.1],[1999.53,-1.1],[1999.63,0.5],[1999.73,-0.3],[1999.83,1.3],[1999.93,0.3],
  [2000.03,1.2],[2000.13,-0.4],[2000.23,0.6],[2000.33,-1.2],[2000.43,1.5],[2000.53,0.1],[2000.63,1.0],[2000.73,-0.6],[2000.83,0.8],[2000.93,2.2],
  [2001.03,0.4],[2001.13,-0.5],[2001.23,1.8],[2001.33,-0.9],[2001.43,0.7],[2001.53,2.0],[2001.63,0.9],[2001.73,-0.4],[2001.83,1.2],[2001.93,0.4],
  [2002.03,-0.6],[2002.13,1.0],[2002.23,0.3],[2002.33,-1.3],[2002.43,1.7],[2002.53,0.4],[2002.63,-0.8],[2002.73,1.1],[2002.83,0.2],[2002.93,1.9],
  [2003.03,0.3],[2003.13,-0.4],[2003.23,0.8],[2003.33,-1.0],[2003.43,1.6],[2003.53,0.2],[2003.63,0.9],[2003.73,1.4],[2003.83,0.3],[2003.93,-1.2],
  [2004.03,0.9],[2004.13,-0.5],[2004.23,0.5],[2004.33,1.2],[2004.43,0.2],[2004.53,-0.9],[2004.63,0.6],[2004.73,1.5],
  [2005.38,0.6],[2005.48,-0.9],[2005.58,0.9],[2005.68,1.5],[2005.78,0.2],[2005.88,-0.7],[2005.98,1.3],
  [2006.08,0.4],[2006.18,1.2],[2006.28,0.0],[2006.38,-1.1],[2006.48,1.6],[2006.58,0.5],[2006.68,-0.6],[2006.78,1.0],[2006.88,0.3],[2006.98,1.8],
  [2007.08,0.2],[2007.18,-0.9],[2007.28,1.3],[2007.38,0.5],[2007.48,-0.4],[2007.58,0.9],[2007.68,1.4],[2007.78,-0.2],[2007.88,0.6],[2007.98,1.1],
  [2008.08,0.3],[2008.18,-0.8],[2008.28,1.2],[2008.38,0.2],[2008.48,-1.1],[2008.58,1.0],[2008.68,0.4],[2008.78,-0.5],[2008.88,1.5],[2008.98,0.5],
  [2009.08,-0.3],[2009.18,1.1],[2009.28,0.4],[2009.38,-0.9],[2009.48,1.3],[2009.58,0.2],[2009.68,-0.4],[2009.78,1.6],[2009.88,0.6],[2009.98,-0.6],
  [2010.08,0.8],[2010.18,1.5],[2010.28,-0.3],[2010.38,1.1],[2010.48,0.1],[2010.58,-0.9],[2010.68,1.4],[2010.78,0.5],[2010.88,-0.2],[2010.98,1.2],
  [2011.08,0.5],[2011.18,-0.7],[2011.28,1.6],[2011.38,0.3],[2011.48,-0.5],[2011.58,1.0],[2011.68,0.2],[2011.78,1.4],[2011.88,-0.6],[2011.98,0.9],
  [2012.08,0.2],[2012.18,1.2],[2012.28,-0.4],[2012.38,0.6],[2012.48,1.5],[2012.58,-0.6],[2012.68,1.1],[2012.78,0.3],[2012.88,-0.8],[2012.98,0.7],
  [2013.08,1.3],[2013.18,-0.4],[2013.28,0.5],[2013.38,1.1],[2013.48,-0.7],[2013.58,0.9],[2013.68,0.2],[2013.78,-0.5],[2013.88,1.2],[2013.98,0.4],
  [2014.08,-0.6],[2014.18,0.9],[2014.28,0.3],[2014.38,1.0],[2014.48,-0.4],[2014.58,0.6],[2014.68,1.2],[2014.78,0.1],[2014.88,0.6],[2014.98,-0.5],
  [2015.08,0.6],[2015.18,1.3],[2015.28,0.1],[2015.38,-0.8],[2015.48,0.9],[2015.58,0.4],[2015.68,-0.3],[2015.78,1.1],[2015.88,0.2],[2015.98,-0.9],
  [2016.08,0.9],[2016.18,0.2],[2016.28,1.3],[2016.38,-0.5],[2016.48,0.4],[2016.58,1.0],[2016.68,2.0],[2016.78,-0.3],[2016.88,0.8],[2016.98,1.8]
];
const ecccOut: P[] = [[2000.97,7.2],[2005.2,6.2],[2014.95,7.8]];
const ecccMarks: P[] = [[2014.77,0.8],[2014.97,0.8]];

const FONT = '"Liberation Sans", Arial, Helvetica, sans-serif';

interface PanelDef {
  name: string;
  top: number;
  pts: P[];
  out: P[];
  marks: P[];
  color: string;
  outColor: string;
  style: string;
  radius: number;
  rotation: number;
  outStyle: string;
  outRadius: number;
}

const PANEL_H = 43;
const PAD = 18;

const PANELS: PanelDef[] = [
  { name: "CSIRO", top: 20, pts: [...csiro, ...csiroB], out: csiroOut, marks: csiroMarks, color: "#22e322", outColor: "#3d8a3d", style: "triangle", radius: 2.8, rotation: 0, outStyle: "circle", outRadius: 2 },
  { name: "MPI-BGC", top: 103, pts: [...mpi, ...mpiB], out: mpiOut, marks: mpiMarks, color: "#f7931e", outColor: "#b07a4a", style: "circle", radius: 3.1, rotation: 0, outStyle: "circle", outRadius: 2.2 },
  { name: "UHEI-IUP", top: 182, pts: [...uhei, ...uheiB], out: uheiOut, marks: uheiMarks, color: "#1414e6", outColor: "#2a3a6a", style: "triangle", radius: 3.2, rotation: 90, outStyle: "crossRot", outRadius: 2.4 },
  { name: "LSCE", top: 264, pts: [...lsce, ...lsceB], out: lsceOut, marks: [], color: "#12e6e6", outColor: "#2c9c9c", style: "rect", radius: 2.9, rotation: 0, outStyle: "rect", outRadius: 1.6 },
  { name: "ECCC", top: 330, pts: [...eccc, ...ecccB], out: ecccOut, marks: ecccMarks, color: "#f28cf0", outColor: "#b070b0", style: "rect", radius: 3.1, rotation: 0, outStyle: "crossRot", outRadius: 2.2 },
];

function PanelChart({ def, first }: { def: PanelDef; first: boolean }) {
  const ref = useRef<HTMLCanvasElement | null>(null);
  const padTop = first ? def.top : PAD;
  const canvasTop = def.top - padTop;
  const height = padTop + PANEL_H + PAD;

  useEffect(() => {
    if (!ref.current) return;
    const decor = {
      id: "decor" + def.name,
      beforeDatasetsDraw(chart: any) {
        const { ctx, chartArea, scales } = chart;
        const { left, right, top, bottom } = chartArea;
        const xs = scales.x;
        const ys = scales.y;
        ctx.save();
        ctx.strokeStyle = "#a3a3a3";
        ctx.lineWidth = 1;
        ctx.strokeRect(left + 0.5, top + 0.5, right - left - 1, bottom - top - 1);
        ctx.beginPath();
        for (const yr of YEARS) {
          const px = Math.round(xs.getPixelForValue(yr)) + 0.5;
          ctx.moveTo(px, top);
          ctx.lineTo(px, top + 6);
          ctx.moveTo(px, bottom);
          ctx.lineTo(px, bottom - 6);
        }
        for (const v of [4, -4]) {
          const py = Math.round(ys.getPixelForValue(v)) + 0.5;
          ctx.moveTo(left, py);
          ctx.lineTo(left + 6, py);
          ctx.moveTo(right, py);
          ctx.lineTo(right - 6, py);
        }
        ctx.stroke();
        ctx.fillStyle = "#333";
        ctx.font = "12px " + FONT;
        ctx.textBaseline = "middle";
        ctx.textAlign = "left";
        ctx.fillText(def.name, left + 8, ys.getPixelForValue(4));
        if (first) {
          ctx.fillStyle = "#111";
          ctx.font = "16px " + FONT;
          ctx.textAlign = "center";
          ctx.textBaseline = "alphabetic";
          for (const yr of YEARS) {
            ctx.fillText(String(yr), xs.getPixelForValue(yr) + 2, 6);
          }
        }
        ctx.restore();
      },
    };

    const chart = new Chart(ref.current, {
      type: "scatter",
      data: {
        datasets: [
          {
            data: def.marks as any,
            pointStyle: "triangle",
            pointRadius: 6,
            backgroundColor: "#f5e600",
            borderColor: "#b5a800",
            borderWidth: 1,
            order: 0,
            clip: false,
          } as any,
          {
            type: "line",
            data: [[X_MIN, 0], [X_MAX, 0]] as any,
            borderColor: "#2a2a2a",
            borderWidth: 2,
            pointRadius: 0,
            order: 1,
          } as any,
          {
            data: def.out as any,
            pointStyle: def.outStyle,
            pointRadius: def.outRadius,
            backgroundColor: def.outColor,
            borderColor: def.outColor,
            borderWidth: def.outStyle === "crossRot" ? 1.3 : 0,
            order: 2,
            clip: false,
          } as any,
          {
            data: def.pts as any,
            pointStyle: def.style,
            pointRadius: def.radius,
            rotation: def.rotation,
            backgroundColor: def.color,
            borderWidth: 0,
            order: 3,
            clip: false,
          } as any,
        ],
      },
      options: {
        responsive: false,
        animation: false,
        devicePixelRatio: 1,
        events: [],
        layout: { padding: { top: padTop, bottom: PAD, left: 0, right: 1 } },
        plugins: { legend: { display: false }, tooltip: { enabled: false } },
        scales: {
          x: {
            type: "linear",
            min: X_MIN,
            max: X_MAX,
            display: false,
          },
          y: {
            type: "linear",
            min: -8,
            max: 8,
            afterFit: (s: any) => {
              s.width = 97;
            },
            afterBuildTicks: (s: any) => {
              s.ticks = Y_TICKS.map((v) => ({ value: v }));
            },
            grid: { display: false, drawTicks: false },
            border: { display: false },
            ticks: {
              padding: 9,
              color: "#222",
              font: { size: 13, family: FONT },
              callback: (v: any) => Number(v).toFixed(1),
            },
          },
        },
      } as any,
      plugins: [decor],
    });
    return () => chart.destroy();
  }, []);

  return (
    <canvas
      ref={ref}
      width={916}
      height={height}
      style={{ position: "absolute", left: 0, top: canvasTop, width: 916, height }}
    />
  );
}

export default function App() {
  return (
    <div style={{ position: "fixed", left: 0, top: 0, width: 916, height: 360, overflow: "hidden", background: "#fff", fontFamily: FONT }}>
      {PANELS.map((p, i) => (
        <PanelChart key={p.name} def={p} first={i === 0} />
      ))}
      <div style={{ position: "absolute", left: 7, top: 12, fontSize: 21, color: "#111", lineHeight: "24px" }}>(b)</div>
      <div
        style={{
          position: "absolute",
          left: 46,
          top: 216,
          transform: "translate(-50%, -50%) rotate(-90deg)",
          whiteSpace: "nowrap",
          fontSize: 17.5,
          fontWeight: "bold",
          color: "#111",
          lineHeight: "20px",
        }}
      >
        Individual <span style={{ fontWeight: "normal" }}>△</span>CH<sub style={{ fontSize: 12 }}>4</sub> vs NOAA <span style={{ fontWeight: "normal" }}>(ppb)</span>
      </div>
    </div>
  );
}
